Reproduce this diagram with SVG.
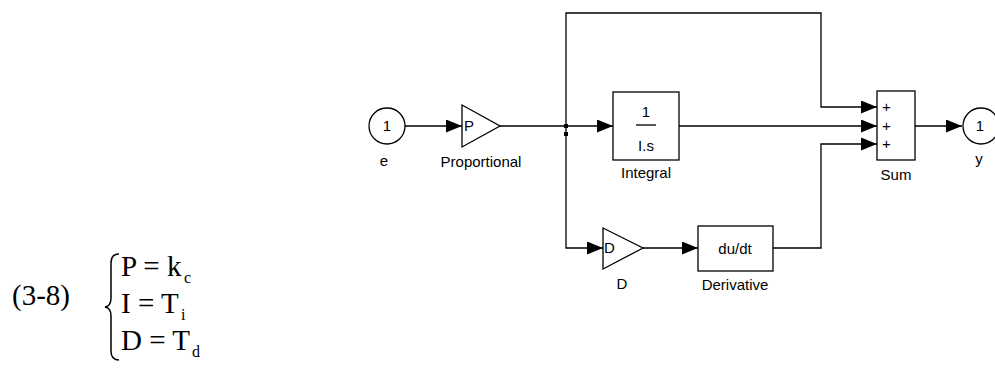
<svg xmlns="http://www.w3.org/2000/svg" width="995" height="377" viewBox="0 0 995 377">
<style>
.blk{fill:#fff;stroke:#000;stroke-width:1.3}
.ln{fill:none;stroke:#000;stroke-width:1.3}
.lbl{font-family:"Liberation Sans",Arial,sans-serif;font-size:15px;fill:#000;text-anchor:middle}
.in{font-family:"Liberation Sans",Arial,sans-serif;font-size:15px;fill:#000}
.eq{font-family:"Liberation Serif","Times New Roman",serif;font-size:29px;fill:#000}
.sub{font-family:"Liberation Serif","Times New Roman",serif;font-size:16px;fill:#000}
</style>
<defs>
<marker id="ah" markerUnits="userSpaceOnUse" markerWidth="16" markerHeight="13" refX="16" refY="6.5" orient="auto">
<path d="M0,0 L16,6.5 L0,13 Z" fill="#000"/>
</marker>
</defs>
<g id="connectors">
<line class="ln" x1="405" y1="126" x2="462" y2="126" marker-end="url(#ah)"/>
<line class="ln" x1="500" y1="126" x2="613" y2="126" marker-end="url(#ah)"/>
<line class="ln" x1="679" y1="126" x2="877" y2="126" marker-end="url(#ah)"/>
<polyline class="ln" points="566,126 566,13 821,13 821,107 877,107" marker-end="url(#ah)"/>
<polyline class="ln" points="566,126 566,248 603,248" marker-end="url(#ah)"/>
<line class="ln" x1="643" y1="248" x2="698" y2="248" marker-end="url(#ah)"/>
<polyline class="ln" points="773,248 821,248 821,144 877,144" marker-end="url(#ah)"/>
<line class="ln" x1="915" y1="126" x2="962" y2="126" marker-end="url(#ah)"/>
<rect x="564" y="124" width="4" height="4" fill="#000"/>
<rect x="564" y="132" width="4" height="4" fill="#000"/>
</g>
<g id="in_e">
<circle class="blk" cx="387" cy="126" r="18"/>
<text class="lbl" x="387" y="131">1</text>
<text class="lbl" x="384" y="166">e</text>
</g>
<g id="proportional">
<polygon class="blk" points="462,105 500,126 462,147"/>
<text class="in" x="464" y="131">P</text>
<text class="lbl" x="481" y="167">Proportional</text>
</g>
<g id="integral">
<rect class="blk" x="613" y="92" width="66" height="68"/>
<text class="lbl" x="646" y="117">1</text>
<line class="ln" x1="636" y1="125" x2="656" y2="125"/>
<text class="lbl" x="646" y="151">I.s</text>
<text class="lbl" x="646" y="178">Integral</text>
</g>
<g id="gain_d">
<polygon class="blk" points="603,228 643,248 603,269"/>
<text class="in" x="604" y="253">D</text>
<text class="lbl" x="622" y="289">D</text>
</g>
<g id="derivative">
<rect class="blk" x="698" y="226" width="75" height="45"/>
<text class="lbl" x="735" y="254">du/dt</text>
<text class="lbl" x="735" y="290">Derivative</text>
</g>
<g id="sum">
<rect class="blk" x="877" y="91" width="38" height="69"/>
<text class="in" x="882" y="112">+</text>
<text class="in" x="882" y="131">+</text>
<text class="in" x="882" y="149">+</text>
<text class="lbl" x="896" y="180">Sum</text>
</g>
<g id="out_y">
<circle class="blk" cx="981" cy="126" r="18"/>
<text class="lbl" x="980" y="131">1</text>
<text class="lbl" x="979" y="164">y</text>
</g>
<g id="equation">
<text class="eq" x="12" y="305">(3-8)</text>
<path d="M119,254 Q111,254 111,263 L111,298 Q111,306 105,307 Q111,308 111,316 L111,351 Q111,360 119,360" fill="none" stroke="#000" stroke-width="1.5"/>
<text class="eq" x="121" y="276">P = k</text>
<text class="sub" x="184" y="283">c</text>
<text class="eq" x="121" y="313">I = T</text>
<text class="sub" x="181" y="320">i</text>
<text class="eq" x="121" y="350">D = T</text>
<text class="sub" x="192" y="357">d</text>
</g>
</svg>
